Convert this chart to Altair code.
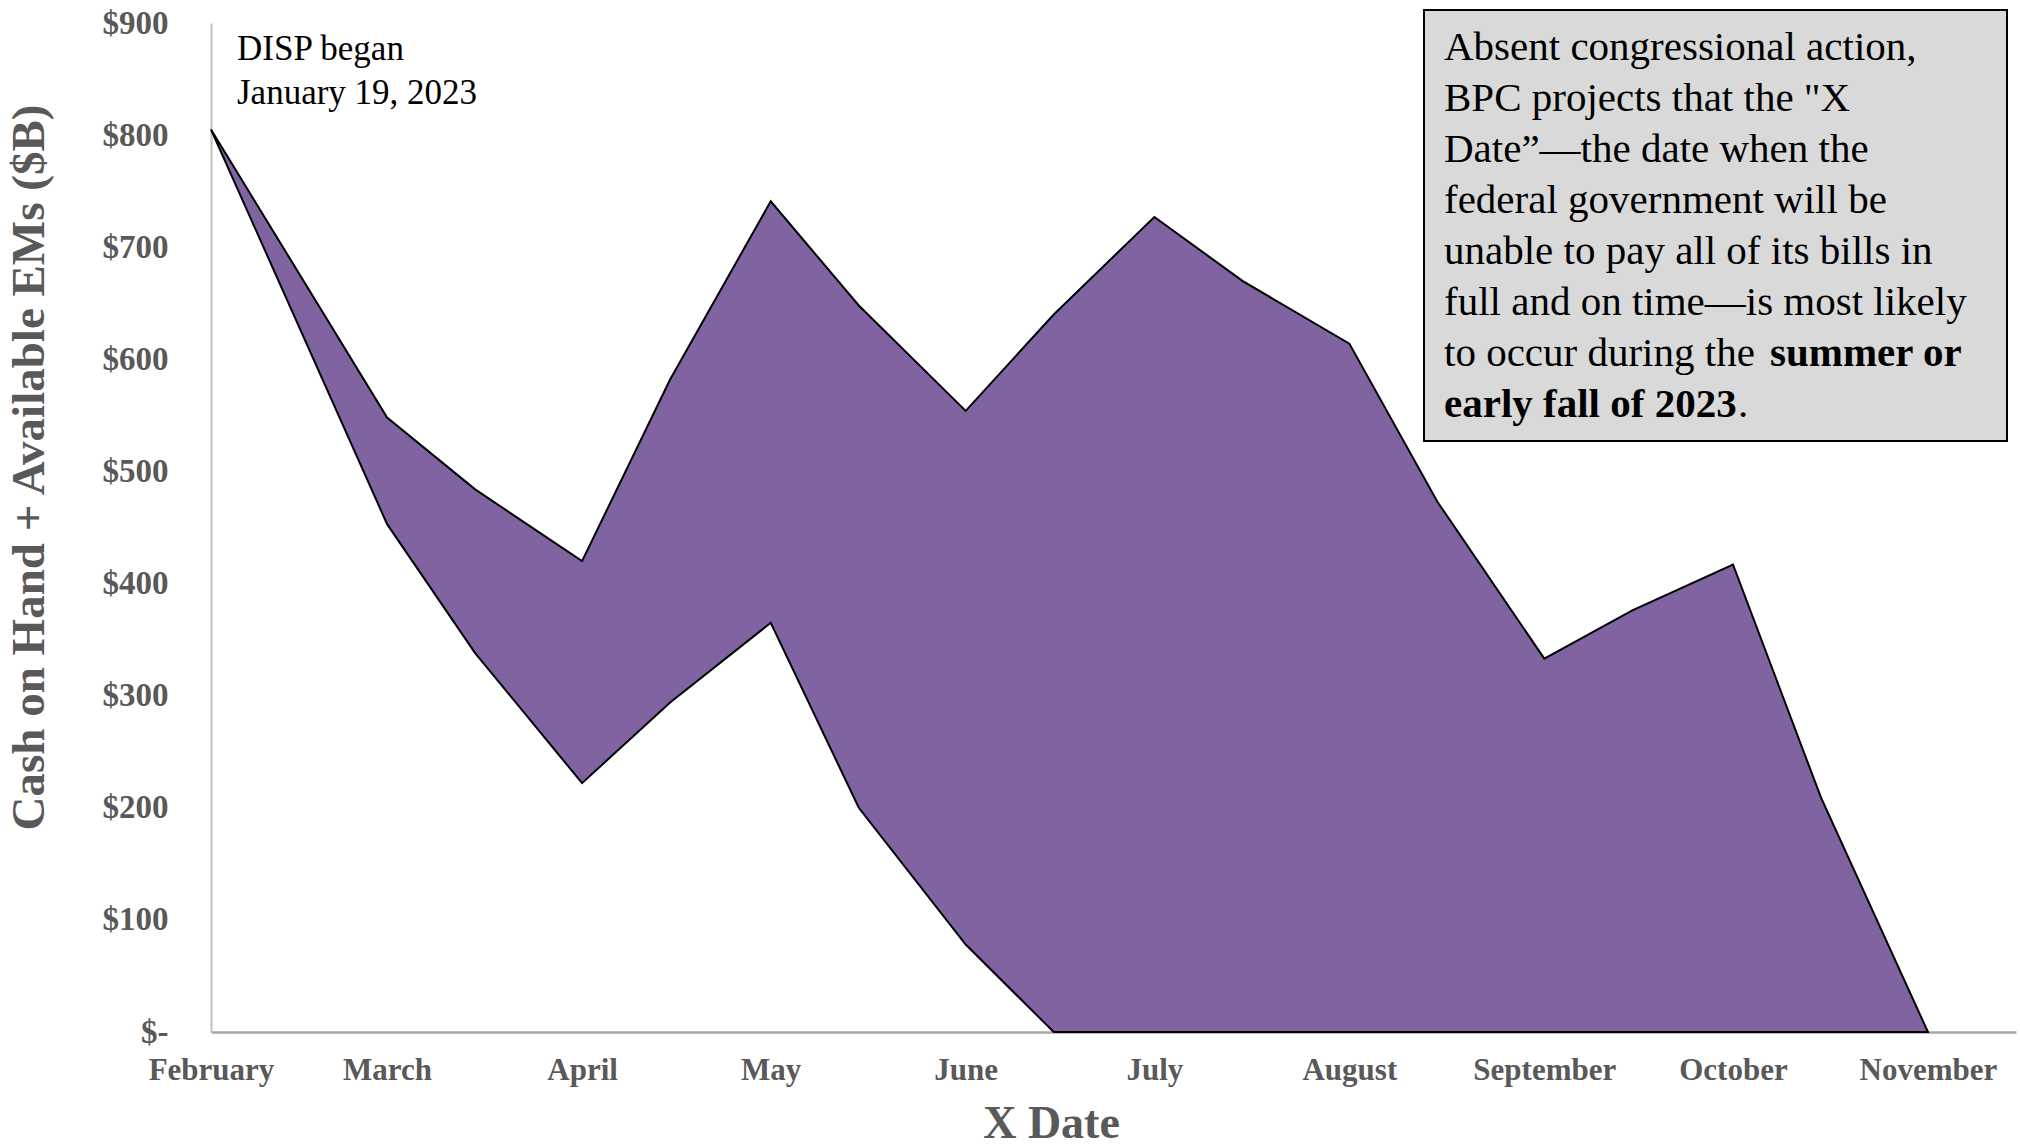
import altair as alt
import pandas as pd

# ---- data ----
dates = ["2023-02-01", "2023-03-01", "2023-03-15", "2023-04-01", "2023-04-15",
         "2023-05-01", "2023-05-15", "2023-06-01", "2023-06-15", "2023-07-01",
         "2023-07-15", "2023-08-01", "2023-08-15", "2023-09-01", "2023-09-15",
         "2023-10-01", "2023-10-15", "2023-11-01"]
upper = [805, 548, 484, 420, 582, 741, 648, 554, 640, 727, 670, 614, 473, 333, 376, 417, 209, 0]
lower = [805, 453, 338, 222, 294, 365, 200, 78, 0, 0, 0, 0, 0, 0, 0, 0, 0, 0]

tick_months = [2, 3, 4, 5, 6, 7, 8, 9, 10, 11]
y_ticks = [0, 100, 200, 300, 400, 500, 600, 700, 800, 900]

disp_lines = ["DISP began", "January 19, 2023"]
box_lines = [
    "Absent congressional action,",
    'BPC projects that the "X',
    "Date\u201d\u2014the date when the",
    "federal government will be",
    "unable to pay all of its bills in",
    "full and on time\u2014is most likely",
]
line7_regular = "to occur during the "
line7_bold = "summer or"
line8_bold = "early fall of 2023"
line8_regular = "."

df = pd.DataFrame({"date": dates, "upper": upper, "lower": lower})
dummy = pd.DataFrame({"a": [0]})

SERIF = "Liberation Serif"
GRAY = "#595959"
W, H = 1805, 1009

x_enc = alt.X(
    "date:T",
    scale=alt.Scale(type="utc",
                    domain=[alt.DateTime(year=2023, month=2, date=1, utc=True),
                            alt.DateTime(year=2023, month=11, date=15, utc=True)]),
    axis=alt.Axis(
        values=[alt.DateTime(year=2023, month=m, date=1, utc=True) for m in tick_months],
        format="%B", formatType="utc",
        title="X Date",
        titleFont=SERIF, titleFontSize=46, titleFontWeight="bold", titleColor=GRAY,
        titleX=840, titleY=105, titleBaseline="alphabetic", titleAlign="center",
        labelFont=SERIF, labelFontSize=31, labelFontWeight="bold", labelColor=GRAY,
        labelPadding=23, ticks=False, tickSize=0, grid=False,
        domainColor="#a6a6a6", domainWidth=2.5, labelFlush=False, labelOverlap=False,
    ),
)

y_enc = alt.Y(
    "upper:Q",
    scale=alt.Scale(domain=[0, 900], nice=False, zero=True),
    axis=alt.Axis(
        values=y_ticks,
        labelExpr="datum.value == 0 ? '$-' : '$' + datum.value",
        title="Cash on Hand + Available EMs ($B)",
        titleFont=SERIF, titleFontSize=47, titleFontWeight="bold", titleColor=GRAY,
        titleX=-168, titleY=444, titleBaseline="alphabetic", titleAlign="center",
        titleAngle=270,
        labelFont=SERIF, labelFontSize=33, labelFontWeight="bold", labelColor=GRAY,
        labelPadding=43, ticks=False, tickSize=0, grid=False,
        domainColor="#bfbfbf", domainWidth=2, labelFlush=False, labelOverlap=False,
    ),
)

area = alt.Chart(df).mark_area(
    color="#8064a2", stroke="black", strokeWidth=2, strokeJoin="miter", opacity=1
).encode(x=x_enc, y=y_enc, y2="lower:Q")


def txt(s, x, y, size, weight="normal"):
    return alt.Chart(dummy).mark_text(
        text=s, align="left", baseline="alphabetic", font=SERIF,
        fontSize=size, fontWeight=weight, color="black"
    ).encode(x=alt.value(x), y=alt.value(y))


layers = [area]

# DISP annotation
for i, s in enumerate(disp_lines):
    layers.append(txt(s, 26, 37 + 44 * i, 35))

# Grey call-out box
box = alt.Chart(dummy).mark_rect(
    fill="#d9d9d9", stroke="black", strokeWidth=2
).encode(x=alt.value(1213), x2=alt.value(1796), y=alt.value(-13), y2=alt.value(418))
layers.append(box)

BX = 1233
BY0 = 37
LH = 51
for i, s in enumerate(box_lines):
    layers.append(txt(s, BX, BY0 + LH * i, 41))
layers.append(txt(line7_regular, BX, BY0 + LH * 6, 41))
layers.append(txt(line7_bold, BX + 326, BY0 + LH * 6, 41, "bold"))
layers.append(txt(line8_bold, BX, BY0 + LH * 7, 41, "bold"))
layers.append(txt(line8_regular, BX + 294, BY0 + LH * 7, 41))

chart = alt.layer(*layers).properties(
    width=W, height=H,
    autosize="none",
    padding={"left": 211, "top": 23, "right": 4, "bottom": 114},
    background="white",
).configure_view(strokeWidth=0)

chart.save("out.html", embed_options={"renderer": "svg", "actions": False})
